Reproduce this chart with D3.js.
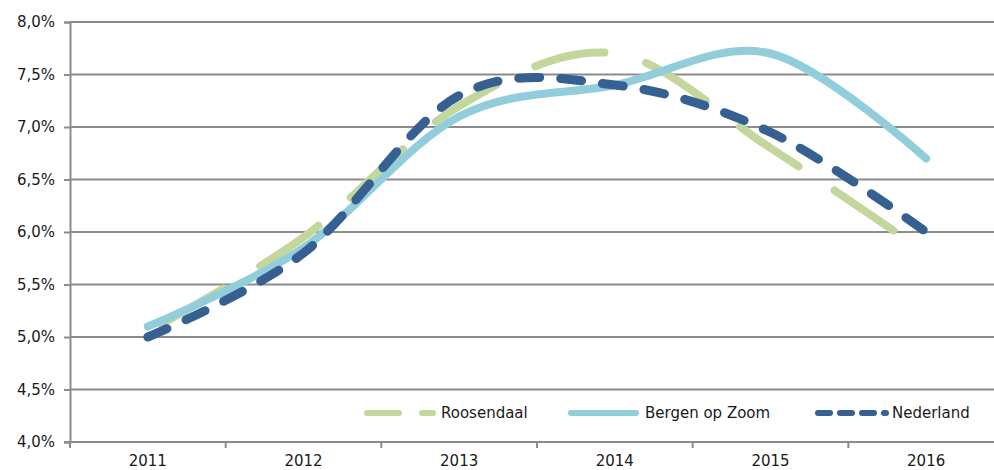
<!DOCTYPE html>
<html>
  <head>
    <meta charset="utf-8">
    <title>Roosendaal, Bergen op Zoom, Nederland</title>
    <style>
      body { margin: 0; background: #fff; }
      text { font-family: "DejaVu Sans", Verdana, sans-serif; fill: #1a1a1a; }
    </style>
  </head>
  <body>
    <div id="chart"></div>
    <script src="https://d3js.org/d3.v7.min.js"></script>
    <script>

    // ---------------------------------------------------- data
    var years = ["2011", "2012", "2013", "2014", "2015", "2016"];
    var roosendaal = [0.0505, 0.0595, 0.072, 0.077, 0.068, 0.058];
    var bergenOpZoom = [0.051, 0.0585, 0.071, 0.074, 0.077, 0.067];
    var nederland = [0.050, 0.058, 0.073, 0.074, 0.0695, 0.060];
    var yTicks = [0.04, 0.045, 0.05, 0.055, 0.06, 0.065, 0.07, 0.075, 0.08];

    var series = [
      {name: "Roosendaal", values: roosendaal, color: "#c3d69b", width: 8, dash: [71, 43], legendDash: "32,23"},
      {name: "Bergen op Zoom", values: bergenOpZoom, color: "#92cddc", width: 8, dash: null, legendDash: null},
      {name: "Nederland", values: nederland, color: "#366092", width: 9, dash: [21, 21], legendDash: "12,10"}
    ];

    // ---------------------------------------------------- setup
    var width = 994, height = 470;
    // note: "top" is taken by window.top, so use plot* names
    var plotLeft = 70, plotRight = 1004, plotTop = 22, plotBottom = 442;

    var svg = d3.select("#chart").append("svg")
        .attr("width", width)
        .attr("height", height);

    var x = d3.scaleBand().domain(years).range([plotLeft, plotRight]);
    var y = d3.scaleLinear().domain([0.04, 0.08]).range([plotBottom, plotTop]);

    var nl = d3.formatLocale({decimal: ",", thousands: ".", grouping: [3], currency: ["€", ""]});
    var pct = nl.format(".1%");

    var gridColor = "#8c8c8c";
    var fontSize = "15px";

    // gridlines
    svg.append("g")
      .selectAll("line")
      .data(yTicks.slice(1))
      .enter().append("line")
        .attr("x1", plotLeft)
        .attr("x2", plotRight)
        .attr("y1", function(d) { return y(d); })
        .attr("y2", function(d) { return y(d); })
        .attr("stroke", gridColor)
        .attr("stroke-width", 2);

    // y axis
    var yAxis = svg.append("g")
        .attr("transform", "translate(" + plotLeft + ",0)")
        .call(d3.axisLeft(y).tickValues(yTicks).tickFormat(pct).tickSize(6).tickPadding(9));
    yAxis.select(".domain").attr("stroke", gridColor).attr("stroke-width", 2);
    yAxis.selectAll(".tick line").attr("stroke", gridColor).attr("stroke-width", 2);
    yAxis.selectAll("text").style("font-size", fontSize).attr("fill", "#1a1a1a");

    // x axis
    var xAxis = svg.append("g")
        .attr("transform", "translate(0," + plotBottom + ")")
        .call(d3.axisBottom(x).tickSize(0).tickPadding(13));
    xAxis.select(".domain").remove();
    xAxis.selectAll("text").style("font-size", fontSize).attr("fill", "#1a1a1a");

    svg.append("line")
        .attr("x1", plotLeft - 6).attr("x2", plotRight)
        .attr("y1", plotBottom).attr("y2", plotBottom)
        .attr("stroke", gridColor).attr("stroke-width", 2);

    // category separators below the axis
    svg.append("g")
      .selectAll("line")
      .data(years)
      .enter().append("line")
        .attr("x1", function(d) { return x(d); })
        .attr("x2", function(d) { return x(d); })
        .attr("y1", plotBottom)
        .attr("y2", plotBottom + 6)
        .attr("stroke", gridColor)
        .attr("stroke-width", 2);

    // ---------------------------------------------------- lines
    var line = d3.line()
        .x(function(d, i) { return x(years[i]) + x.bandwidth() / 2; })
        .y(function(d) { return y(d); })
        .curve(d3.curveCardinal.tension(0));

    series.forEach(function(s) {
      var p = svg.append("path")
        .datum(s.values)
        .attr("fill", "none")
        .attr("stroke", s.color)
        .attr("stroke-width", s.width)
        .attr("stroke-linecap", "round")
        .attr("d", line);
      if (s.dash) {
        p.attr("stroke-dasharray", s.dash.join(","));
        if (s.name == "Roosendaal") {
          // line ends in a gap, last dash stops ~40px before the end
          var L = p.node().getTotalLength();
          var period = s.dash[0] + s.dash[1];
          var off = ((s.dash[0] - (L - 40)) % period + period) % period;
          p.attr("stroke-dashoffset", off);
        }
      }
    });

    // ---------------------------------------------------- legend
    var legendX = [364, 568, 815];
    var legendLen = [72, 71, 74];
    var legendY = 413;

    var lg = svg.append("g");
    series.forEach(function(s, i) {
      lg.append("line")
        .attr("x1", legendX[i] + 3)
        .attr("x2", legendX[i] + legendLen[i] - 3)
        .attr("y1", legendY)
        .attr("y2", legendY)
        .attr("stroke", s.color)
        .attr("stroke-width", 6)
        .attr("stroke-linecap", "round")
        .attr("stroke-dasharray", s.legendDash);
      lg.append("text")
        .attr("x", legendX[i] + 77)
        .attr("y", legendY)
        .attr("dy", "0.35em")
        .style("font-size", fontSize)
        .text(s.name);
    });
    </script>
  </body>
</html>
